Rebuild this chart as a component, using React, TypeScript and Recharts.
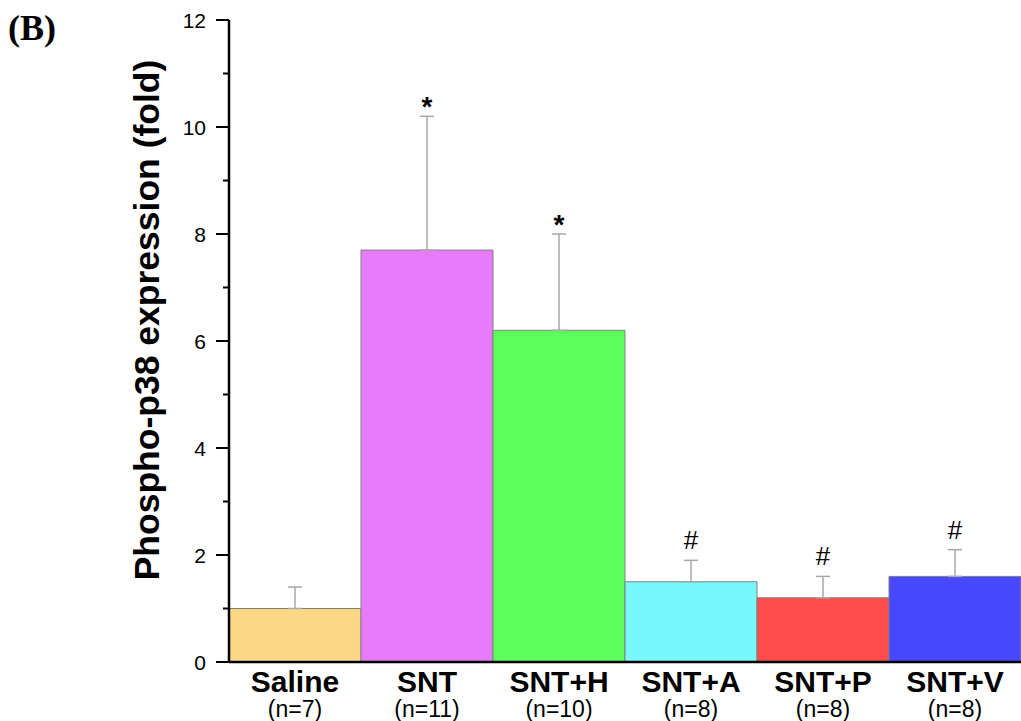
import React from 'react';
import { ComposedChart, Bar, Line, XAxis, YAxis, ErrorBar, Cell, LabelList, Label } from 'recharts';

const groups = ['Saline', 'SNT', 'SNT+H', 'SNT+A', 'SNT+P', 'SNT+V'];
const sampleSizes = ['(n=7)', '(n=11)', '(n=10)', '(n=8)', '(n=8)', '(n=8)'];
const means = [1.0, 7.7, 6.2, 1.5, 1.2, 1.6];
const errors = [0.4, 2.5, 1.8, 0.4, 0.4, 0.5];
const marks = ['', '*', '*', '#', '#', '#'];
const colors = ['#FDD886', '#E87BFB', '#5CFF5C', '#78F8FC', '#FF4C4C', '#4848FF'];
const yTicks = [0, 1, 2, 3, 4, 5, 6, 7, 8, 9, 10, 11, 12];

const data = groups.map((g, i) => ({
  name: g,
  n: sampleSizes[i],
  value: means[i],
  err: [0, errors[i]],
  top: means[i] + errors[i],
  mark: marks[i],
}));

const FONT = '"Liberation Sans", Arial, Helvetica, sans-serif';

const YTick = (props: any) => {
  const { x, y, payload } = props;
  const v = payload.value;
  const major = v % 2 === 0;
  return (
    <g>
      <line x1={x - (major ? 13 : 6)} x2={x} y1={y} y2={y} stroke="#000" strokeWidth={2} />
      {major && (
        <text x={x - 23} y={y} dy="0.36em" textAnchor="end" fontSize={21} fontFamily={FONT} fill="#000">
          {v}
        </text>
      )}
    </g>
  );
};

const XTick = (props: any) => {
  const { x, y, payload, index } = props;
  return (
    <g>
      <text x={x} y={y + 30} textAnchor="middle" fontSize={30} fontWeight="bold" fontFamily={FONT} fill="#000">
        {payload.value}
      </text>
      <text x={x} y={y + 55} textAnchor="middle" fontSize={23} fontFamily={FONT} fill="#000">
        {sampleSizes[index]}
      </text>
    </g>
  );
};

const MarkLabel = (props: any) => {
  const { x, y, value } = props;
  if (!value) return null;
  const isHash = value === '#';
  return (
    <text
      x={x}
      y={y + (isHash ? -11 : 0)}
      textAnchor="middle"
      fontSize={isHash ? 26 : 28}
      fontWeight={isHash ? 'normal' : 'bold'}
      fontFamily={FONT}
      fill="#000"
    >
      {value}
    </text>
  );
};

export default function App() {
  return (
    <div style={{ position: 'absolute', left: 0, top: 0, width: 1021, height: 721, background: '#fff' }}>
      <div
        style={{
          position: 'absolute',
          left: 8,
          top: 10,
          fontFamily: '"Liberation Serif", "Times New Roman", serif',
          fontWeight: 'bold',
          fontSize: 36,
          lineHeight: '36px',
        }}
      >
        (B)
      </div>
      <ComposedChart
        width={1021}
        height={721}
        data={data}
        margin={{ top: 20, right: 0, bottom: 0, left: 0 }}
        barCategoryGap={0}
        style={{ position: 'absolute', left: 0, top: 0 }}
      >
        <XAxis
          dataKey="name"
          height={59}
          axisLine={{ stroke: '#000', strokeWidth: 2.5 }}
          tickLine={false}
          tickSize={0}
          tickMargin={0}
          tick={<XTick />}
          interval={0}
        />
        <YAxis
          width={229}
          domain={[0, 12]}
          ticks={yTicks}
          interval={0}
          axisLine={{ stroke: '#000', strokeWidth: 2.5 }}
          tickLine={false}
          tickSize={0}
          tickMargin={0}
          tick={<YTick />}
        >
          <Label
            content={() => (
              <text
                x={147}
                y={320}
                transform="rotate(-90 147 320)"
                textAnchor="middle"
                dominantBaseline="central"
                fontSize={35.5}
                fontWeight="bold"
                fontFamily={FONT}
                fill="#000"
              >
                Phospho-p38 expression (fold)
              </text>
            )}
          />
        </YAxis>
        <Bar dataKey="value" stroke="#808080" strokeWidth={1} isAnimationActive={false}>
          {data.map((d, i) => (
            <Cell key={d.name} fill={colors[i]} />
          ))}
          <ErrorBar dataKey="err" direction="y" width={7} stroke="#a8a8a8" strokeWidth={1.5} isAnimationActive={false} />
        </Bar>
        <Line dataKey="top" stroke="none" dot={false} activeDot={false} legendType="none" isAnimationActive={false}>
          <LabelList dataKey="mark" content={<MarkLabel />} />
        </Line>
      </ComposedChart>
    </div>
  );
}
